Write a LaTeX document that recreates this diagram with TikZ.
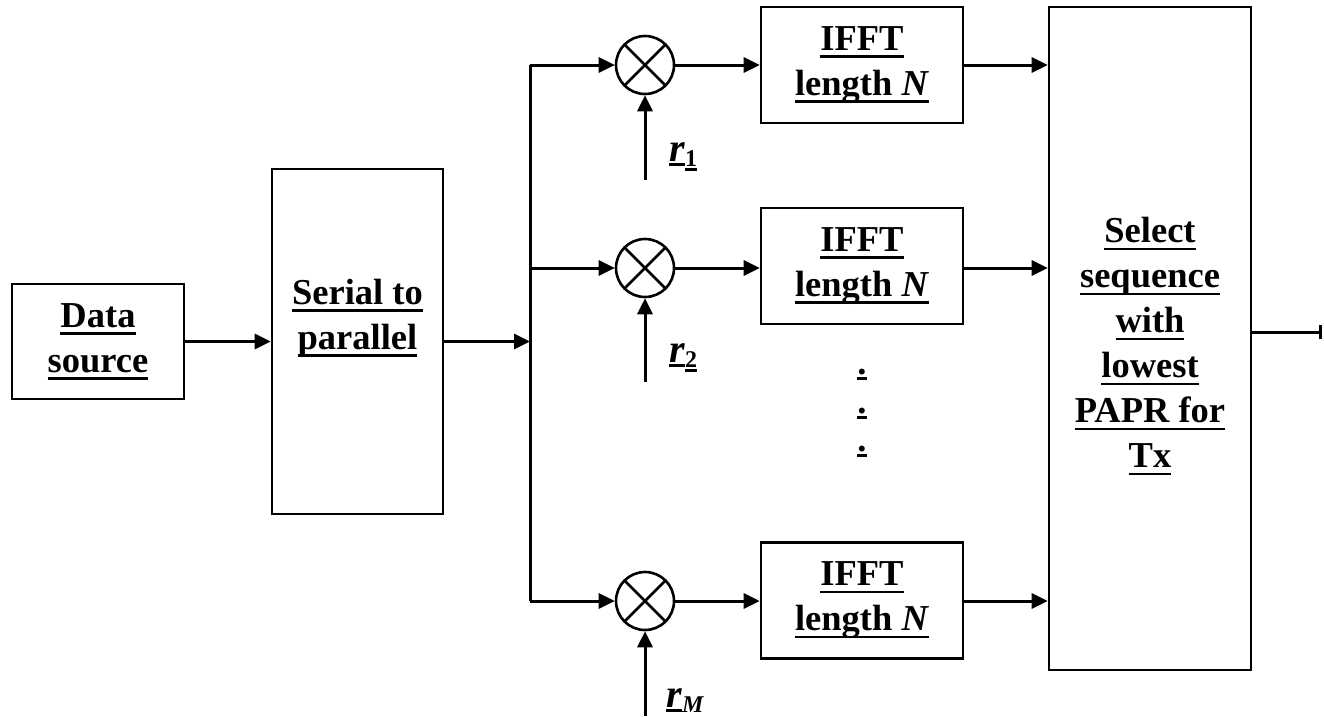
\documentclass[tikz,border=0pt]{standalone}
\usepackage{fontspec}
\setmainfont{Liberation Serif}[BoldFont={Liberation Serif Bold}, ItalicFont={Liberation Serif Italic}, BoldItalicFont={Liberation Serif Bold Italic}]
\usetikzlibrary{arrows.meta}
\newcommand{\undl}[2][7.5pt]{\setbox0\hbox{#2}\leavevmode\rlap{\rule[-#1]{\wd0}{2.7pt}}\box0}

\begin{document}
\begin{tikzpicture}[x=1pt, y=-1pt,
		blk/.style={draw, line width=2.6pt, inner sep=0pt},
		txt/.style={align=center, font=\bfseries\fontsize{36.5}{45}\selectfont},
		fft/.style={blk, txt, minimum width=202pt, minimum height=116pt},
		mix/.style={draw, circle, line width=2.6pt, minimum size=58pt, inner sep=0pt,
			path picture={\draw[line width=2.6pt] (path picture bounding box.north west) -- (path picture bounding box.south east) (path picture bounding box.north east) -- (path picture bounding box.south west);}},
		arr/.style={line width=3pt, -{Triangle[length=16pt,width=15pt]}},
		lbl/.style={anchor=base west, inner sep=0pt, font=\bfseries\fontsize{40}{40}\selectfont}]
		\useasboundingbox (0,0) rectangle (1324,716);
		\node[blk, txt, minimum width=172pt, minimum height=115pt] (ds) at (98,341.5) {\undl{Data}\\\undl{source}};
		\node[blk, minimum width=171pt, minimum height=345pt] (sp) at (357.5,341.5) {};
		\node[txt] (sptxt) at (357.5,318) {\undl{Serial to}\\\undl{parallel}};
		\coordinate (split) at (530,341.5);
		\node[mix] (m1) at (645,65) {};
		\node[mix] (m2) at (645,268) {};
		\node[mix] (m3) at (645,601) {};
		\node[fft] (f1) at (862,65) {\undl{IFFT}\\\undl{length \textit{N}}};
		\node[fft] (f2) at (862,266) {\undl{IFFT}\\\undl{length \textit{N}}};
		\node[fft] (f3) at (862,600.5) {\undl{IFFT}\\\undl{length \textit{N}}};
		\node[txt, anchor=base, inner sep=0pt] (d1) at (862,374) {\undl[5.5pt]{.}};
		\node[txt, anchor=base, inner sep=0pt] (d2) at (862,413) {\undl[5.5pt]{.}};
		\node[txt, anchor=base, inner sep=0pt] (d3) at (862,451) {\undl[5.5pt]{.}};
		\node[blk, minimum width=202pt, minimum height=663pt] (sel) at (1150,338.5) {};
		\node[txt] (seltxt) at (1150,346.5) {\undl{Select}\\\undl{sequence}\\\undl{with}\\\undl{lowest}\\\undl{PAPR for}\\\undl{Tx}};
		\coordinate (in1) at (645,180);
		\coordinate (in2) at (645,382);
		\coordinate (in3) at (645,716);
		\coordinate (out) at (1322,332);
		\node[lbl] (r1) at (669,161) {\undl[5pt]{\textit{r}}\raisebox{-5pt}{\fontsize{24}{24}\selectfont\undl[5pt]{1}}};
		\node[lbl] (r2) at (669,362) {\undl[5pt]{\textit{r}}\raisebox{-5pt}{\fontsize{24}{24}\selectfont\undl[5pt]{2}}};
		\node[lbl] (rM) at (666,707) {\undl[5pt]{\textit{r}}\raisebox{-5pt}{\fontsize{24}{24}\selectfont\textit{M}}};
		\draw[arr] (ds) -- (sp);
		\draw[arr] (sp.east |- split) -- (split);
		\draw[line width=3pt] (m1 -| split) -- (m3 -| split);
		\draw[arr] (m1 -| split) -- (m1);
		\draw[arr] (m2 -| split) -- (m2);
		\draw[arr] (m3 -| split) -- (m3);
		\draw[arr] (in1) -- (m1);
		\draw[arr] (in2) -- (m2);
		\draw[arr] (in3) -- (m3);
		\draw[arr] (m1) -- (m1 -| f1.west);
		\draw[arr] (m2) -- (m2 -| f2.west);
		\draw[arr] (m3) -- (m3 -| f3.west);
		\draw[arr] (f1) -- (f1 -| sel.west);
		\draw[arr] (m2 -| f2.east) -- (m2 -| sel.west);
		\draw[arr] (m3 -| f3.east) -- (m3 -| sel.west);
		\draw[line width=3pt, -{Bar[width=14pt]}] (sel.east |- out) -- (out);
	\end{tikzpicture}
\end{document}
